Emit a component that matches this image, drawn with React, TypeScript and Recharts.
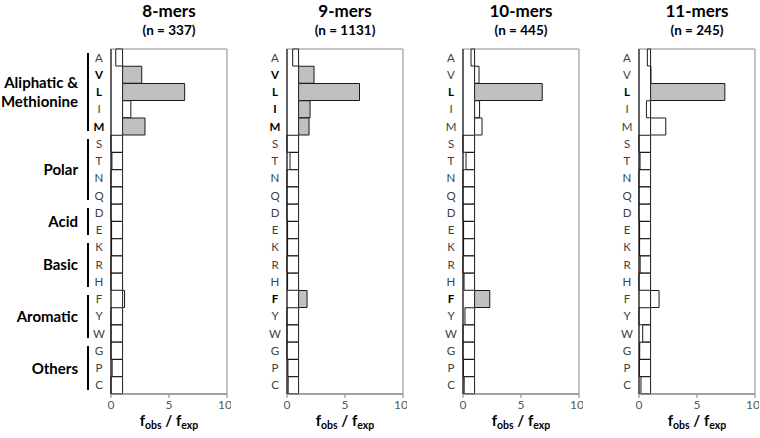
import React from "react";
import {
  BarChart,
  Bar,
  Cell,
  XAxis,
  YAxis,
  ReferenceArea,
} from "recharts";

// amino acids, top to bottom
const aminoAcids = ["A", "V", "L", "I", "M", "S", "T", "N", "Q", "D", "E", "K", "R", "H", "F", "Y", "W", "G", "P", "C"];

// f_obs / f_exp per peptide length
const mer8 = [0.41, 2.65, 6.35, 1.71, 2.93, 0, 0.08, 0, 0, 0, 0.05, 0.05, 0, 0, 1.17, 0, 0, 0, 0.1, 0];
const mer9 = [0.49, 2.33, 6.25, 1.99, 1.9, 0, 0.26, 0, 0, 0, 0.05, 0.05, 0, 0.05, 1.73, 0, 0, 0, 0.08, 0.1];
const mer10 = [0.69, 1.38, 6.83, 1.43, 1.64, 0, 0.26, 0, 0, 0, 0.05, 0.05, 0, 0.09, 2.31, 0.17, 0, 0, 0.03, 0.1];
const mer11 = [0.72, 1.03, 7.4, 0.64, 2.31, 0, 0.09, 0, 0, 0, 0.05, 0.05, 0.1, 0, 1.73, 0, 0.32, 0.06, 0.03, 0.17];

// significantly enriched residues (grey bars, bold labels)
const sig8 = ["V", "L", "M"];
const sig9 = ["V", "L", "I", "M", "F"];
const sig10 = ["L", "F"];
const sig11 = ["L"];

const titles = ["8-mers", "9-mers", "10-mers", "11-mers"];
const counts = [337, 1131, 445, 245];
const xTicks = [0, 5, 10];

const groups = [
  { lines: ["Aliphatic &", "Methionine"], from: 0, to: 4 },
  { lines: ["Polar"], from: 5, to: 8 },
  { lines: ["Acid"], from: 9, to: 10 },
  { lines: ["Basic"], from: 11, to: 13 },
  { lines: ["Aromatic"], from: 14, to: 16 },
  { lines: ["Others"], from: 17, to: 19 },
];

const FONT = "Lato, 'Open Sans', sans-serif";
const PLOT_TOP = 49;
const PLOT_BOTTOM = 394;
const PLOT_W = 116;
const AXIS_W = 28;
const PANEL_LEFT = [111, 287, 463, 639];
const ROW_H = (PLOT_BOTTOM - PLOT_TOP) / aminoAcids.length;

const panels = [
  { values: mer8, sig: sig8 },
  { values: mer9, sig: sig9 },
  { values: mer10, sig: sig10 },
  { values: mer11, sig: sig11 },
];

function Panel({ values, sig, left }: { values: number[]; sig: string[]; left: number }) {
  const data = aminoAcids.map((aa, i) => {
    const v = values[i];
    return { aa, range: [Math.min(v, 1), Math.max(v, 1)] };
  });

  const LetterTick = (props: any) => {
    const { y, payload } = props;
    const bold = sig.includes(payload.value);
    return (
      <text
        x={AXIS_W - 12}
        y={y}
        dy={4}
        textAnchor="middle"
        fontSize={11.5}
        fontFamily={FONT}
        fontWeight={bold ? 700 : 400}
        fill={bold ? "#000" : "#404040"}
      >
        {payload.value}
      </text>
    );
  };

  return (
    <div style={{ position: "absolute", left: left - AXIS_W, top: 0 }}>
      <BarChart
        width={AXIS_W + PLOT_W + 4}
        height={438}
        data={data}
        layout="vertical"
        barCategoryGap={0}
        margin={{ top: PLOT_TOP, right: 4, left: 0, bottom: 14 }}
      >
        <ReferenceArea x1={0} x2={10} fill="none" stroke="#8c8c8c" strokeWidth={1} />
        <XAxis
          type="number"
          domain={[0, 10]}
          ticks={xTicks}
          height={30}
          tickSize={4}
          tickMargin={2}
          axisLine={{ stroke: "#808080" }}
          tickLine={{ stroke: "#808080" }}
          tick={{ fontSize: 12, fill: "#595959", fontFamily: FONT }}
        />
        <YAxis
          type="category"
          dataKey="aa"
          width={AXIS_W}
          axisLine={{ stroke: "#000" }}
          tickLine={false}
          interval={0}
          tick={<LetterTick />}
        />
        <Bar dataKey="range" stroke="#1a1a1a" strokeWidth={1} isAnimationActive={false}>
          {data.map((d) => (
            <Cell key={d.aa} fill={sig.includes(d.aa) ? "#c0c0c0" : "#ffffff"} />
          ))}
        </Bar>
      </BarChart>
    </div>
  );
}

export default function App() {
  return (
    <div
      style={{
        position: "absolute",
        left: 0,
        top: 0,
        width: 760,
        height: 438,
        background: "#fff",
        fontFamily: FONT,
        overflow: "hidden",
        color: "#000",
      }}
    >
      {panels.map((p, i) => (
        <Panel key={titles[i]} values={p.values} sig={p.sig} left={PANEL_LEFT[i]} />
      ))}

      {titles.map((t, i) => {
        const cx = PANEL_LEFT[i] + PLOT_W / 2;
        return (
          <React.Fragment key={t}>
            <div
              style={{
                position: "absolute",
                left: cx - 60,
                width: 120,
                top: 0,
                textAlign: "center",
                fontWeight: 700,
                fontSize: 17,
                lineHeight: "21px",
              }}
            >
              {t}
            </div>
            <div
              style={{
                position: "absolute",
                left: cx - 60,
                width: 120,
                top: 21,
                textAlign: "center",
                fontWeight: 700,
                fontSize: 13.5,
                lineHeight: "18px",
              }}
            >
              (n = {counts[i]})
            </div>
            <div
              style={{
                position: "absolute",
                left: cx - 60,
                width: 120,
                top: 412,
                textAlign: "center",
                fontWeight: 700,
                fontSize: 15,
                lineHeight: "16px",
                whiteSpace: "nowrap",
              }}
            >
              f
              <span style={{ fontSize: 10.5, position: "relative", top: 3 }}>obs</span>
              {" / f"}
              <span style={{ fontSize: 10.5, position: "relative", top: 3 }}>exp</span>
            </div>
          </React.Fragment>
        );
      })}

      {groups.map((g) => {
        const y1 = PLOT_TOP + g.from * ROW_H + 4;
        const y2 = PLOT_TOP + (g.to + 1) * ROW_H - 4;
        const mid = (y1 + y2) / 2;
        return (
          <React.Fragment key={g.lines[0]}>
            <div
              style={{
                position: "absolute",
                left: 87,
                top: y1,
                width: 2,
                height: y2 - y1,
                background: "#000",
              }}
            />
            <div
              style={{
                position: "absolute",
                right: 760 - 78,
                top: mid - (g.lines.length * 19) / 2,
                textAlign: "right",
                fontWeight: 700,
                fontSize: 15,
                lineHeight: "19px",
                whiteSpace: "nowrap",
              }}
            >
              {g.lines.map((l) => (
                <div key={l}>{l}</div>
              ))}
            </div>
          </React.Fragment>
        );
      })}
    </div>
  );
}
